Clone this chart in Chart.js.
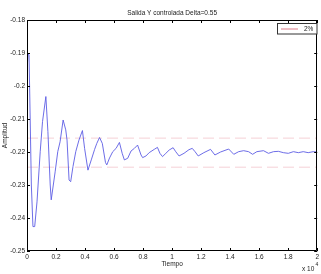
<!DOCTYPE html>
<html>
<head>
<meta charset="utf-8">
<script src="https://cdn.jsdelivr.net/npm/chart.js@4/dist/chart.umd.min.js"></script>
<style>
html, body { margin: 0; padding: 0; background: #fff; }
#wrap { width: 321px; height: 274px; }
</style>
</head>
<body>
<div id="wrap"><canvas id="grafica" width="321" height="274"></canvas></div>
<script>
// datos
const tiempo = [0, 70, 140, 300, 410, 530, 690, 910, 1070, 1300, 1440, 1600, 1670, 1940, 2120, 2280, 2490, 2670, 2760, 2900, 3010, 3170, 3360, 3580, 3820, 3970, 4200, 4430, 4660, 4810, 5000, 5190, 5410, 5500, 5690, 5910, 6140, 6370, 6560, 6710, 6940, 7170, 7400, 7620, 7860, 7970, 8200, 8420, 8770, 8990, 9160, 9340, 9570, 9800, 10070, 10250, 10480, 10820, 11160, 11390, 11580, 11800, 12190, 12650, 12950, 13340, 13900, 14250, 14590, 14930, 15270, 15550, 15840, 16300, 16640, 16990, 17330, 17670, 18010, 18360, 18700, 19040, 19380, 19730, 20000];
const amplitud = [-0.1955, -0.1903, -0.1905, -0.2300, -0.2426, -0.2426, -0.2351, -0.2199, -0.2108, -0.2032, -0.2138, -0.2300, -0.2345, -0.2260, -0.2199, -0.2169, -0.2103, -0.2133, -0.2164, -0.2285, -0.2290, -0.2244, -0.2199, -0.2164, -0.2135, -0.2189, -0.2255, -0.2224, -0.2192, -0.2174, -0.2156, -0.2174, -0.2232, -0.2239, -0.2218, -0.2199, -0.2189, -0.2171, -0.2204, -0.2224, -0.2219, -0.2197, -0.2189, -0.2179, -0.2209, -0.2217, -0.2212, -0.2202, -0.2192, -0.2186, -0.2204, -0.2214, -0.2204, -0.2194, -0.2187, -0.2199, -0.2212, -0.2204, -0.2193, -0.2189, -0.2199, -0.2212, -0.2202, -0.2192, -0.2209, -0.2200, -0.2191, -0.2207, -0.2199, -0.2196, -0.2199, -0.2207, -0.2199, -0.2196, -0.2204, -0.2199, -0.2198, -0.2202, -0.2204, -0.2199, -0.2202, -0.2199, -0.2202, -0.2199, -0.2200];
const bandaSup = -0.2158;
const bandaInf = -0.2246;
const xTicks = [0, 2000, 4000, 6000, 8000, 10000, 12000, 14000, 16000, 18000, 20000];
const xTickLabels = ['0', '0.2', '0.4', '0.6', '0.8', '1', '1.2', '1.4', '1.6', '1.8', '2'];
const yTicks = [-0.25, -0.24, -0.23, -0.22, -0.21, -0.2, -0.19, -0.18];
const yTickLabels = ['-0.25', '-0.24', '-0.23', '-0.22', '-0.21', '-0.2', '-0.19', '-0.18'];

const FONT = '"Liberation Sans", Arial, sans-serif';
const azul = '#5c5ce4';
const rosa = '#f2c4cb';
const rosaLeyenda = '#dc7c89';

// marco, marcas interiores, leyenda y textos de ejes al estilo matlab
const marcoMatlab = {
  id: 'marcoMatlab',
  afterDraw(chart) {
    const ctx = chart.ctx;
    const a = chart.chartArea;
    const sx = chart.scales.x, sy = chart.scales.y;
    ctx.save();
    ctx.strokeStyle = '#000';
    ctx.lineWidth = 1;
    ctx.beginPath();
    ctx.rect(Math.round(a.left) + 0.5, Math.round(a.top) + 0.5, Math.round(a.right - a.left) - 1, Math.round(a.bottom - a.top) - 1);
    ctx.stroke();
    ctx.beginPath();
    xTicks.forEach(v => {
      const p = Math.round(sx.getPixelForValue(v)) + 0.5;
      ctx.moveTo(p, a.bottom); ctx.lineTo(p, a.bottom - 3);
      ctx.moveTo(p, a.top); ctx.lineTo(p, a.top + 3);
    });
    yTicks.forEach(v => {
      const p = Math.round(sy.getPixelForValue(v)) + 0.5;
      ctx.moveTo(a.left, p); ctx.lineTo(a.left + 3, p);
      ctx.moveTo(a.right, p); ctx.lineTo(a.right - 3, p);
    });
    ctx.stroke();

    // leyenda
    ctx.fillStyle = '#fff';
    ctx.fillRect(277.5, 23.5, 39.5, 10.5);
    ctx.strokeStyle = '#333';
    ctx.strokeRect(277.5, 23.5, 39.5, 10.5);
    ctx.strokeStyle = rosaLeyenda;
    ctx.beginPath();
    ctx.moveTo(281, 29); ctx.lineTo(298, 29);
    ctx.stroke();
    ctx.fillStyle = '#222';
    ctx.font = '6.5px ' + FONT;
    ctx.textBaseline = 'middle';
    ctx.textAlign = 'left';
    ctx.fillText(chart.data.datasets[1].label, 304, 29);

    // textos de ejes
    ctx.textAlign = 'center';
    ctx.fillText('Tiempo', (a.left + a.right) / 2, 264);
    ctx.save();
    ctx.translate(5, (a.top + a.bottom) / 2);
    ctx.rotate(-Math.PI / 2);
    ctx.fillText('Amplitud', 0, 0);
    ctx.restore();
    ctx.textAlign = 'left';
    ctx.fillText('x 10', 302, 269.5);
    ctx.font = '5px ' + FONT;
    ctx.fillText('4', 315.5, 265);
    ctx.restore();
  }
};

new Chart(document.getElementById('grafica'), {
  type: 'line',
  data: {
    datasets: [
      {
        label: 'Salida',
        data: tiempo.map((t, i) => ({ x: t, y: amplitud[i] })),
        borderColor: azul,
        borderWidth: 0.9,
        pointRadius: 0,
        tension: 0
      },
      {
        label: '2%',
        data: [{ x: 0, y: bandaSup }, { x: 20000, y: bandaSup }],
        borderColor: rosa,
        borderWidth: 0.8,
        borderDash: [11, 5],
        pointRadius: 0
      },
      {
        label: '',
        data: [{ x: 0, y: bandaInf }, { x: 20000, y: bandaInf }],
        borderColor: rosa,
        borderWidth: 0.8,
        borderDash: [11, 5],
        pointRadius: 0
      }
    ]
  },
  options: {
    responsive: false,
    animation: false,
    events: [],
    layout: { padding: { left: 0, right: 2, top: 0, bottom: 0 } },
    plugins: {
      legend: { display: false },
      tooltip: { enabled: false },
      title: {
        display: true,
        text: 'Salida Y controlada Delta=0.55',
        fullSize: false,
        color: '#222',
        font: { family: FONT, size: 6.5, weight: 'normal' },
        padding: { top: 9, bottom: 3.2 }
      }
    },
    scales: {
      x: {
        type: 'linear',
        min: 0,
        max: 20000,
        afterBuildTicks: s => { s.ticks = xTicks.map(v => ({ value: v })); },
        afterFit: s => { s.height = 23; },
        grid: { display: false, drawTicks: false },
        border: { display: false },
        ticks: {
          autoSkip: false,
          maxRotation: 0,
          padding: 2,
          color: '#222',
          font: { family: FONT, size: 6.5 },
          callback: (v, i) => xTickLabels[i]
        }
      },
      y: {
        type: 'linear',
        min: -0.25,
        max: -0.18,
        afterBuildTicks: s => { s.ticks = yTicks.map(v => ({ value: v })); },
        afterFit: s => { s.width = 27; },
        grid: { display: false, drawTicks: false },
        border: { display: false },
        ticks: {
          autoSkip: false,
          padding: 2,
          color: '#222',
          font: { family: FONT, size: 6.5 },
          callback: (v, i) => yTickLabels[i]
        }
      }
    }
  },
  plugins: [marcoMatlab]
});
</script>
</body>
</html>
